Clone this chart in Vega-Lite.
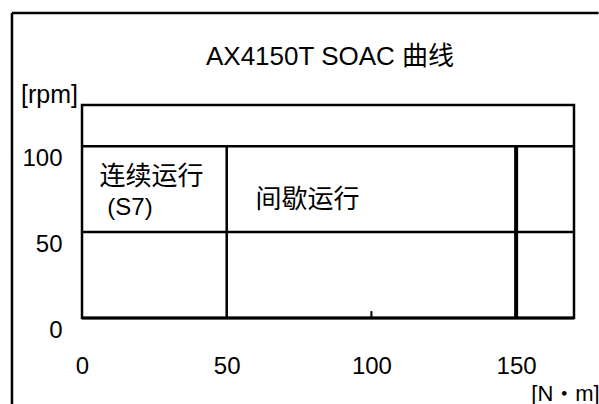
{
  "$schema": "https://vega.github.io/schema/vega-lite/v6.json",
  "width": 492,
  "height": 213,
  "autosize": {"type": "none"},
  "padding": {"left": 82, "top": 105, "right": 25, "bottom": 86},
  "background": "white",
  "title": {
    "text": "AX4150T SOAC 曲线",
    "fontSize": 26,
    "fontWeight": "normal",
    "color": "black",
    "anchor": "middle",
    "offset": -58,
    "dx": 2
  },
  "config": {
    "font": "Liberation Sans, Noto Sans CJK SC",
    "view": {"stroke": "black", "strokeWidth": 2.5},
    "axis": {"labelColor": "black", "titleColor": "black", "labelFontSize": 24, "titleFontSize": 22, "titleFontWeight": "normal"}
  },
  "datasets": {
    "lines": [
      {"kind": "grid", "x": 0, "x2": 170, "y": 100, "y2": 100},
      {"kind": "grid", "x": 0, "x2": 170, "y": 50, "y2": 50},
      {"kind": "grid", "x": 50, "x2": 50, "y": 0, "y2": 100},
      {"kind": "limit", "x": 150, "x2": 150, "y": -0.6, "y2": 100},
      {"kind": "tick", "x": 100, "x2": 100, "y": 0, "y2": 4},
      {"kind": "base", "x": 0, "x2": 170, "y": 0, "y2": 0},
      {"kind": "frame", "x": -24.2, "x2": 178.5, "y": 177.6, "y2": 177.6},
      {"kind": "frame", "x": -24.2, "x2": -24.2, "y": -51, "y2": 177.6}
    ],
    "labels": [
      {"x": 24, "y": 82, "text": "连续运行", "kind": "cjk"},
      {"x": 16.6, "y": 64, "text": "(S7)", "kind": "latin"},
      {"x": 77.9, "y": 68.7, "text": "间歇运行", "kind": "cjk"}
    ]
  },
  "layer": [
    {
      "data": {"name": "lines"},
      "encoding": {
        "x": {
          "field": "x", "type": "quantitative",
          "scale": {"domain": [0, 170], "nice": false, "zero": false},
          "axis": {
            "values": [0, 50, 100, 150], "grid": false, "ticks": false, "domain": false,
            "labelPadding": 36, "labelFlush": false,
            "title": "[N・m]", "titleX": 483, "titleY": 75, "titleAlign": "center", "titleBaseline": "middle"
          }
        },
        "x2": {"field": "x2"},
        "y": {
          "field": "y", "type": "quantitative",
          "scale": {"domain": [0, 124], "nice": false, "zero": false},
          "axis": {
            "values": [0, 50, 100], "grid": false, "ticks": false, "domain": false,
            "labelPadding": 20, "labelOffset": 12, "labelBaseline": "middle", "labelFlush": false,
            "title": "[rpm]", "titleFontSize": 25, "titleAngle": 0, "titleX": -33, "titleY": -11, "titleAlign": "center", "titleBaseline": "middle"
          }
        },
        "y2": {"field": "y2"}
      },
      "layer": [
        {"transform": [{"filter": "datum.kind == 'grid'"}], "mark": {"type": "rule", "color": "black", "strokeWidth": 2.5, "clip": false}},
        {"transform": [{"filter": "datum.kind == 'limit'"}], "mark": {"type": "rule", "color": "black", "strokeWidth": 4, "clip": false}},
        {"transform": [{"filter": "datum.kind == 'tick'"}], "mark": {"type": "rule", "color": "black", "strokeWidth": 2, "clip": false}},
        {"transform": [{"filter": "datum.kind == 'base'"}], "mark": {"type": "rule", "color": "black", "strokeWidth": 3, "clip": false}},
        {"transform": [{"filter": "datum.kind == 'frame'"}], "mark": {"type": "rule", "color": "black", "strokeWidth": 2.5, "clip": false}}
      ]
    },
    {
      "data": {"name": "labels"},
      "transform": [{"filter": "datum.kind == 'cjk'"}],
      "mark": {"type": "text", "fontSize": 26, "color": "black", "align": "center", "baseline": "middle"},
      "encoding": {
        "x": {"field": "x", "type": "quantitative"},
        "y": {"field": "y", "type": "quantitative"},
        "text": {"field": "text"}
      }
    },
    {
      "data": {"name": "labels"},
      "transform": [{"filter": "datum.kind == 'latin'"}],
      "mark": {"type": "text", "fontSize": 24, "color": "black", "align": "center", "baseline": "middle"},
      "encoding": {
        "x": {"field": "x", "type": "quantitative"},
        "y": {"field": "y", "type": "quantitative"},
        "text": {"field": "text"}
      }
    }
  ]
}
